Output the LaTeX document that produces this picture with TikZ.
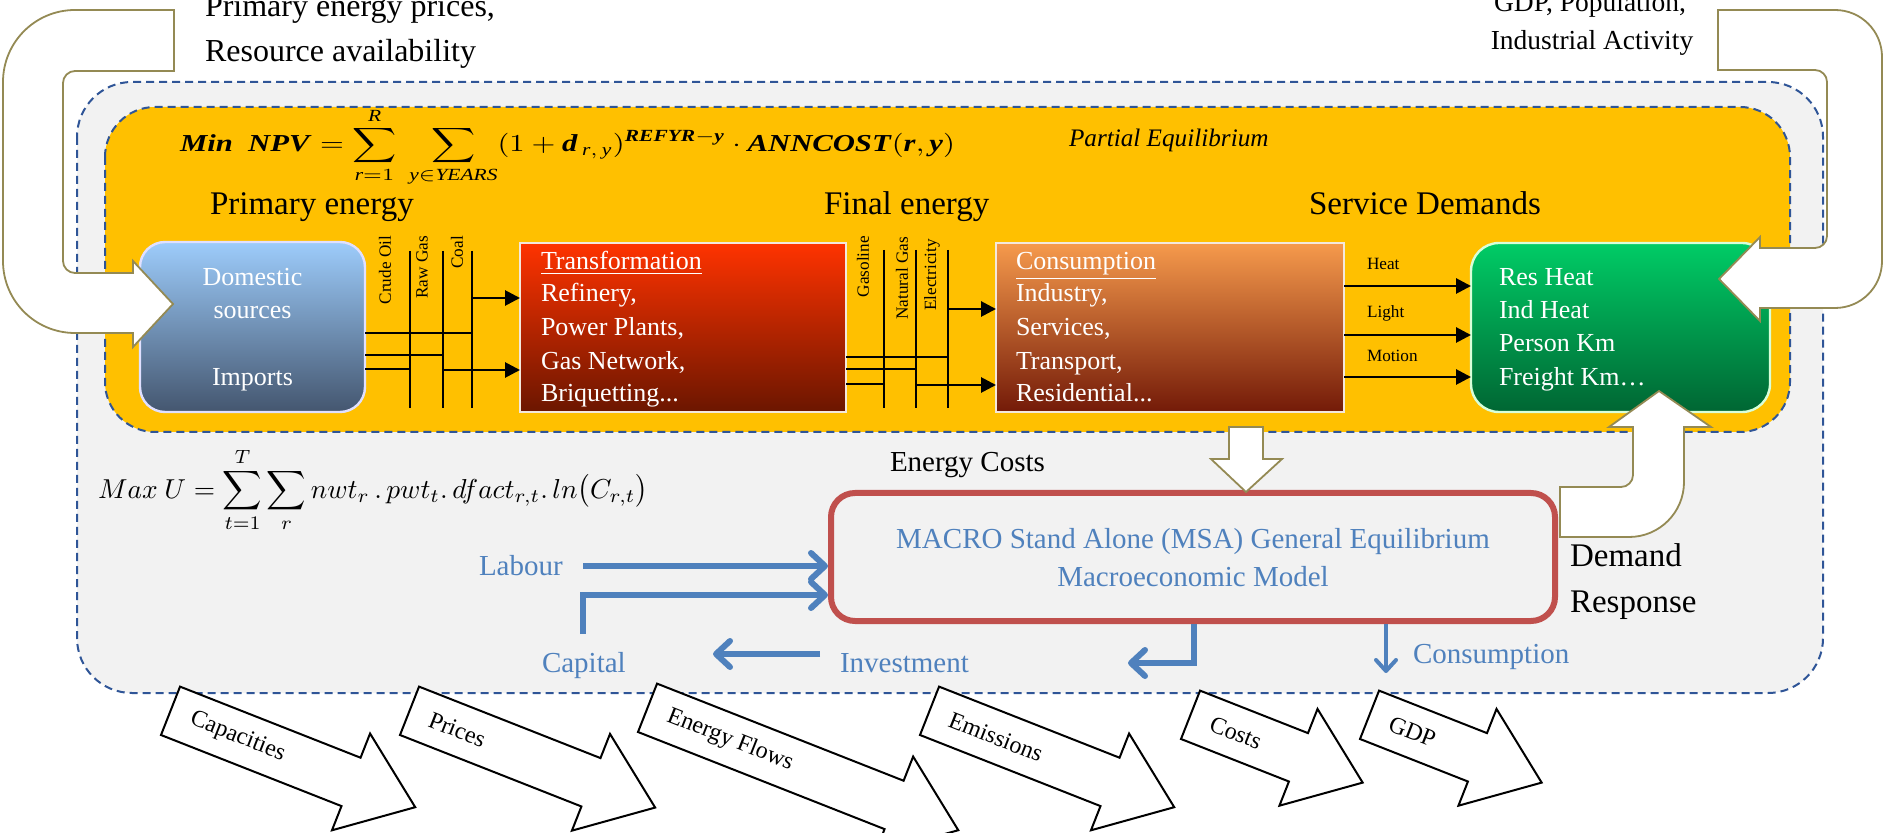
\documentclass[tikz,border=0pt]{standalone}
\usepackage{fontspec}
\setmainfont{Liberation Serif}
\usepackage{amsmath}
\usepackage{graphicx}
\usetikzlibrary{arrows.meta,calc}

\definecolor{grayfill}{HTML}{F2F2F2}
\definecolor{yellowfill}{HTML}{FFC000}
\definecolor{dashblue}{HTML}{2F5597}
\definecolor{domtop}{HTML}{9DCCFB}
\definecolor{dommid}{HTML}{7A9FC6}
\definecolor{dombot}{HTML}{44566F}
\definecolor{trtop}{HTML}{FF3300}
\definecolor{trmid}{HTML}{C42200}
\definecolor{trbot}{HTML}{6B1600}
\definecolor{cotop}{HTML}{F69A4C}
\definecolor{comid}{HTML}{B8632F}
\definecolor{cobot}{HTML}{731A08}
\definecolor{sdtop}{HTML}{00CC66}
\definecolor{sdbot}{HTML}{006633}
\definecolor{macrored}{HTML}{C0504D}
\definecolor{macroblue}{HTML}{4F81BD}
\definecolor{arrowtan}{HTML}{948A54}
\definecolor{boxedge}{HTML}{F4E8DC}

% bold italic text inside formulas
\newcommand{\bi}[1]{\textbf{\textit{#1}}}

\begin{document}
\begin{tikzpicture}[x=0.5pt,y=-0.5pt,
  every node/.style={inner sep=0pt,outer sep=0pt},
  region/.style={draw=dashblue,line width=1pt,dash pattern=on 4pt off 2.5pt},
  flowbox/.style={draw=boxedge,line width=0.8pt,minimum height=84.5pt},
  headtxt/.style={font=\fontsize{16.5}{19}\selectfont},
  boxtxt/.style={font=\fontsize{13}{16}\selectfont,text=white},
  smalltxt/.style={font=\fontsize{8.6}{10}\selectfont},
  midtxt/.style={font=\fontsize{14.5}{17}\selectfont},
  bluetxt/.style={midtxt,text=macroblue},
  bus/.style={line width=1pt},
  flowarrow/.style={line width=1.4pt,-{Triangle[length=7.5pt,width=7.5pt]}},
  macroarrow/.style={draw=macroblue,line width=3pt,-{Straight Barb[length=7pt,width=13pt,round]}},
  thinmacroarrow/.style={draw=macroblue,line width=2pt,-{Straight Barb[length=5.5pt,width=10pt,round]}},
  bigarrow/.style={draw=arrowtan,line width=0.9pt,fill=white},
  outarrow/.style={draw=black,line width=1pt,fill=white},
  outlab/.style={font=\fontsize{12}{14}\selectfont}
]
\useasboundingbox (0,0) rectangle (1883,833);
\clip (0,0) rectangle (1883,833);

% model regions
\draw[region,fill=grayfill,rounded corners=27.5pt] (77,82) rectangle (1823,693);
\draw[region,fill=yellowfill,rounded corners=25pt] (105,107) rectangle (1790,432);

% objective of the partial equilibrium model
\node[anchor=base west] (npv) at (180,152)
  {\resizebox{387.5pt}{22pt}{$\displaystyle \bi{Min\ \ NPV}=\sum_{\textit{r}=1}^{\textit{R}}\ \sum_{\textit{y}\in\textit{YEARS}}(1+\bi{d}_{\,\textit{r},\,\textit{y}})^{\bi{REFYR}-\bi{y}}\cdot\bi{ANNCOST}(\bi{r},\bi{y})$}};
\node[anchor=base west,font=\fontsize{12.6}{15}\selectfont\itshape] (pe) at (1069,147) {Partial Equilibrium};

% stage headings
\node[headtxt,anchor=base west] (hprim) at (210,215) {Primary energy};
\node[headtxt,anchor=base west] (hfin) at (824,215) {Final energy};
\node[headtxt,anchor=base west] (hserv) at (1309,215) {Service Demands};

% energy system boxes
\node[flowbox,draw=white!88!blue,line width=1.2pt,rounded corners=12.5pt,minimum width=112.5pt,minimum height=85pt,
      top color=domtop,middle color=dommid,bottom color=dombot] (dom) at (252.5,327) {};
\node[flowbox,minimum width=163pt,top color=trtop,middle color=trmid,bottom color=trbot] (trans) at (683,327.5) {};
\node[flowbox,minimum width=174pt,top color=cotop,middle color=comid,bottom color=cobot] (cons) at (1170,327.5) {};
\node[flowbox,draw=white!85!green,line width=1.2pt,rounded corners=14pt,minimum width=149.5pt,
      top color=sdtop,bottom color=sdbot] (serv) at (1620.5,327.5) {};

\node[boxtxt,anchor=base] (dom1) at (252.5,286) {Domestic};
\node[boxtxt,anchor=base] (dom2) at (252.5,319) {sources};
\node[boxtxt,anchor=base] (dom3) at (252.5,386) {Imports};

\node[boxtxt,anchor=base west] (tr0) at (541,270) {\underline{Transformation}};
\node[boxtxt,anchor=base west] (tr1) at (541,302) {Refinery,};
\node[boxtxt,anchor=base west] (tr2) at (541,336) {Power Plants,};
\node[boxtxt,anchor=base west] (tr3) at (541,370) {Gas Network,};
\node[boxtxt,anchor=base west] (tr4) at (541,402) {Briquetting...};

\node[boxtxt,anchor=base west] (co0) at (1016,270) {\underline{Consumption}};
\node[boxtxt,anchor=base west] (co1) at (1016,302) {Industry,};
\node[boxtxt,anchor=base west] (co2) at (1016,336) {Services,};
\node[boxtxt,anchor=base west] (co3) at (1016,370) {Transport,};
\node[boxtxt,anchor=base west] (co4) at (1016,402) {Residential...};

\node[boxtxt,anchor=base west] (sd1) at (1499,286) {Res Heat};
\node[boxtxt,anchor=base west] (sd2) at (1499,319) {Ind Heat};
\node[boxtxt,anchor=base west] (sd3) at (1499,352) {Person Km};
\node[boxtxt,anchor=base west] (sd4) at (1499,386) {Freight Km…};

% primary energy carriers
\coordinate (crudeT) at (410,251); \coordinate (crudeB) at (410,408);
\coordinate (rawT) at (443,251);   \coordinate (rawB) at (443,408);
\coordinate (coalT) at (472,251);  \coordinate (coalB) at (472,408);
\draw[bus] (crudeT) -- (crudeB);
\draw[bus] (rawT) -- (rawB);
\draw[bus] (coalT) -- (coalB);
\draw[bus] (dom.east |- 0,333) -- (coalT |- 0,333);
\draw[bus] (dom.east |- 0,355) -- (rawT |- 0,355);
\draw[bus] (dom.east |- 0,369) -- (crudeT |- 0,369);
\draw[flowarrow] (coalT |- 0,298) -- (trans.west |- 0,298);
\draw[flowarrow] (rawT |- 0,370) -- (trans.west |- 0,370);
\node[smalltxt,rotate=90,anchor=east] (lcrude) at (385,236) {Crude Oil};
\node[smalltxt,rotate=90,anchor=east] (lraw) at (422,236) {Raw Gas};
\node[smalltxt,rotate=90,anchor=east] (lcoal) at (457,236) {Coal};

% final energy carriers
\coordinate (gasT) at (884,250);  \coordinate (gasB) at (884,408);
\coordinate (ngT) at (916,250);   \coordinate (ngB) at (916,408);
\coordinate (elT) at (948,250);   \coordinate (elB) at (948,408);
\draw[bus] (gasT) -- (gasB);
\draw[bus] (ngT) -- (ngB);
\draw[bus] (elT) -- (elB);
\draw[bus] (trans.east |- 0,357) -- (elT |- 0,357);
\draw[bus] (trans.east |- 0,369) -- (ngT |- 0,369);
\draw[bus] (trans.east |- 0,384) -- (gasT |- 0,384);
\draw[flowarrow] (elT |- 0,309) -- (cons.west |- 0,309);
\draw[flowarrow] (ngT |- 0,385) -- (cons.west |- 0,385);
\node[smalltxt,rotate=90,anchor=east] (lgas) at (863,236) {Gasoline};
\node[smalltxt,rotate=90,anchor=east] (lng) at (902,237) {Natural Gas};
\node[smalltxt,rotate=90,anchor=east] (lel) at (932,239) {Electricity};

% useful energy flows
\draw[flowarrow] (cons.east |- 0,286) -- (serv.west |- 0,286);
\draw[flowarrow] (cons.east |- 0,335) -- (serv.west |- 0,335);
\draw[flowarrow] (cons.east |- 0,377) -- (serv.west |- 0,377);
\node[smalltxt,anchor=base west] (lheat) at (1367,270) {Heat};
\node[smalltxt,anchor=base west] (llight) at (1367,318) {Light};
\node[smalltxt,anchor=base west] (lmotion) at (1367,362) {Motion};

% macroeconomic part
\node[anchor=base west] (maxu) at (98,498)
  {\resizebox{275pt}{!}{$\displaystyle Max\ U=\sum_{t=1}^{T}\sum_{r}nwt_{r}\,.\,pwt_{t}.\,dfact_{r,t}.\,ln\bigl(C_{r,t}\bigr)$}};
\node[midtxt,anchor=base west] (ecost) at (890,472) {Energy Costs};

\node[draw=macrored,line width=3pt,rounded corners=12pt,minimum width=362pt,minimum height=64pt,outer sep=1.5pt] (msa) at (1193,557) {};
\node[bluetxt,anchor=base] (msa1) at (1193,548) {MACRO Stand Alone (MSA) General Equilibrium};
\node[bluetxt,anchor=base] (msa2) at (1193,586) {Macroeconomic Model};

\node[font=\fontsize{16.5}{19}\selectfont,anchor=base west] (dem1) at (1570,567) {Demand};
\node[font=\fontsize{16.5}{19}\selectfont,anchor=base west] (dem2) at (1570,612) {Response};

\node[bluetxt,anchor=base west] (labour) at (479,575) {Labour};
\node[bluetxt,anchor=base west] (capital) at (542,672) {Capital};
\node[bluetxt,anchor=base west] (invest) at (840,672) {Investment};
\node[bluetxt,anchor=base west] (consum) at (1413,663) {Consumption};

\coordinate (labS) at (583,566);
\coordinate (capS) at (583,634);
\coordinate (invS) at (820,654);
\coordinate (invE) at (713,654);
\coordinate (msaInv) at (1128,663);
\coordinate (msaCon) at (1386,673);
\draw[macroarrow] (labS) -- ([yshift=-4.5pt]msa.west);
\draw[macroarrow] (capS) |- ([yshift=-19pt]msa.west);
\draw[macroarrow] (invS) -- (invE);
\draw[macroarrow] ([xshift=0.5pt]msa.south) |- (msaInv);
\draw[thinmacroarrow] ([xshift=96.5pt]msa.south) -- (msaCon);

% exogenous drivers
\node[font=\fontsize{16}{19}\selectfont,anchor=base west] (ext1) at (205,17) {Primary energy prices,};
\node[font=\fontsize{16}{19}\selectfont,anchor=base west] (ext2) at (205,62) {Resource availability};
\node[font=\fontsize{13.75}{16}\selectfont,anchor=base] (drv1) at (1590,12) {GDP, Population,};
\node[font=\fontsize{13.75}{16}\selectfont,anchor=base] (drv2) at (1592,50) {Industrial Activity};

% supply input arrow
\draw[bigarrow] (174,10) -- (75,10)
  .. controls (35.2,10) and (3,42.2) .. (3,82) -- (3,261)
  .. controls (3,300.8) and (35.2,333) .. (75,333)
  -- (133,333) -- (133,347) -- (173,304) -- (133,261) -- (133,273) -- (75,273)
  .. controls (68.4,273) and (63,267.6) .. (63,261) -- (63,83)
  .. controls (63,76.4) and (68.4,71) .. (75,71) -- (174,71) -- cycle;

% demand driver arrow
\draw[bigarrow] (1718,10) -- (1835,10)
  .. controls (1861,10) and (1882,31) .. (1882,57) -- (1882,261)
  .. controls (1882,287) and (1861,308) .. (1835,308)
  -- (1760,308) -- (1760,321) -- (1719,279) -- (1760,237) -- (1760,248) -- (1815,248)
  .. controls (1821.6,248) and (1827,242.6) .. (1827,236) -- (1827,82)
  .. controls (1827,75.4) and (1821.6,70) .. (1815,70) -- (1718,70) -- cycle;

% energy costs to MACRO
\draw[bigarrow] (1229,427) -- (1263,427) -- (1263,459) -- (1282,459) -- (1246,492) -- (1211,459) -- (1229,459) -- cycle;

% demand response back to service demands
\draw[bigarrow] (1560,487) -- (1621,487)
  .. controls (1627.6,487) and (1633,481.6) .. (1633,475) -- (1633,427) -- (1609,427) -- (1659,391) -- (1711,427) -- (1684,427) -- (1684,482)
  .. controls (1684,512.4) and (1659.4,537) .. (1629,537) -- (1560,537) -- cycle;

% model outputs
\foreach \bx/\by/\len/\txt [count=\i] in {161/735/194/Capacities,400/735/195/Prices,638/732/265/Energy Flows,920/735/194/Emissions,1181/739/116/Costs,1360/739/116/GDP}{
  \begin{scope}[shift={(\bx,\by)},rotate=-21.5]
    \draw[outarrow] (0,0) -- (\len,0) -- (\len,26) -- ({\len+69},-26) -- (\len,-78) -- (\len,-52) -- (0,-52) -- cycle;
    \node[outlab,anchor=west,rotate=-21.5] (out\i) at (22,-26) {\txt};
  \end{scope}
}
\end{tikzpicture}
\end{document}
